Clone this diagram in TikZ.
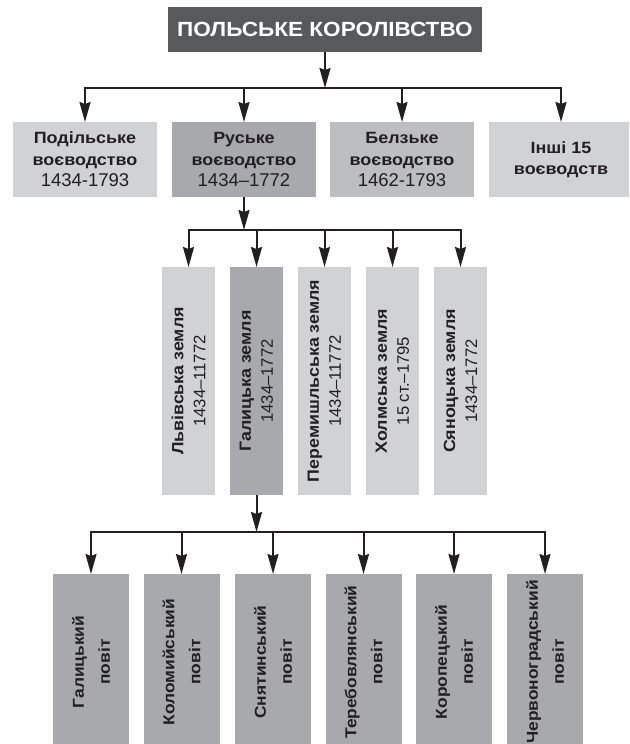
\documentclass[tikz,border=0pt]{standalone}
\usepackage{fontspec}
\setmainfont{Liberation Sans}[BoldFeatures={FakeStretch=1.1}]
\usetikzlibrary{arrows.meta}
\definecolor{ink}{HTML}{231F20}
\definecolor{boxlight}{HTML}{D1D2D4}
\definecolor{boxmid}{HTML}{BCBEC0}
\definecolor{boxdark}{HTML}{A7A9AC}
\definecolor{titlebg}{HTML}{58595B}
\begin{document}
\begin{tikzpicture}[x=1pt,y=-1pt,
  conn/.style={line width=2pt, draw=ink},
  bus/.style={conn, line cap=rect},
  arr/.style={conn, -{Stealth[length=20pt,width=11pt,inset=2pt]}},
  box/.style={inner sep=0pt, outer sep=0pt, text=ink, align=center},
  prov/.style={box, minimum width=144pt, minimum height=75pt, font=\fontsize{16.3}{21.5}\selectfont},
  land/.style={box, rotate=90, minimum width=228pt, minimum height=53pt, font=\fontsize{16.2}{22}\selectfont},
  pov/.style={box, rotate=90, minimum width=176pt, minimum height=76pt, fill=boxdark, font=\bfseries\fontsize{15.8}{26}\selectfont},
]
\useasboundingbox (0,0) rectangle (629,744);
\clip (0,0) rectangle (629,744);
\fill[white] (0,0) rectangle (629,744);

\node[box, fill=titlebg, text=white, minimum width=314pt, minimum height=45pt,
  font=\bfseries\fontsize{20.5}{24}\selectfont] (top) at (325,29.5) {ПОЛЬСЬКЕ КОРОЛІВСТВО};

\node[prov, fill=boxlight] (pod) at (85,159.5)
  {\textbf{Подільське}\\\textbf{воєводство}\\{\fontsize{18.5}{21.5}\selectfont 1434-1793}};
\node[prov, fill=boxdark] (rus) at (244,159.5)
  {\textbf{Руське}\\\textbf{воєводство}\\{\fontsize{18.5}{21.5}\selectfont 1434–1772}};
\node[prov, fill=boxmid] (belz) at (402,159.5)
  {\textbf{Белзьке}\\\textbf{воєводство}\\{\fontsize{18.5}{21.5}\selectfont 1462-1793}};
\node[prov, fill=boxlight] (insh) at (561,159.5)
  {\textbf{Інші 15}\\\textbf{воєводств}};

\node[land, fill=boxlight] (lviv) at (188.5,381)
  {\textbf{Львівська земля}\\{\fontsize{16.7}{22}\selectfont 1434–11772}};
\node[land, fill=boxdark] (hal) at (256.5,381)
  {\textbf{Галицька земля}\\{\fontsize{16.7}{22}\selectfont 1434–1772}};
\node[land, fill=boxlight] (per) at (324.5,381)
  {\textbf{Перемишльська земля}\\{\fontsize{16.7}{22}\selectfont 1434–11772}};
\node[land, fill=boxlight] (khol) at (392.5,381)
  {\textbf{Холмська земля}\\{\fontsize{16.7}{22}\selectfont 15 ст.–1795}};
\node[land, fill=boxlight] (syan) at (460.5,381)
  {\textbf{Сяноцька земля}\\{\fontsize{16.7}{22}\selectfont 1434–1772}};

\node[pov] (p1) at (91,662) {Галицький\\повіт};
\node[pov] (p2) at (181.5,662) {Коломийський\\повіт};
\node[pov] (p3) at (273,662) {Снятинський\\повіт};
\node[pov] (p4) at (363.5,662) {Теребовлянський\\повіт};
\node[pov] (p5) at (454,662) {Коропецький\\повіт};
\node[pov] (p6) at (545,662) {Червоноградський\\повіт};

\coordinate (h1) at (0,88);
\coordinate (h2) at (0,230);
\coordinate (h3) at (0,532);

\draw[arr] (top.south) -- (top.south |- h1);
\draw[bus] (pod.north |- h1) -- (insh.north |- h1);
\foreach \n in {pod,rus,belz,insh} \draw[arr] (\n.north |- h1) -- (\n.north);

\draw[arr] (rus.south) -- (rus.south |- h2);
\draw[bus] (lviv.east |- h2) -- (syan.east |- h2);
\foreach \n in {lviv,hal,per,khol,syan} \draw[arr] (\n.east |- h2) -- (\n.east);

\draw[arr] (hal.west) -- (hal.west |- h3);
\draw[bus] (p1.east |- h3) -- (p6.east |- h3);
\foreach \n in {p1,p2,p3,p4,p5,p6} \draw[arr] (\n.east |- h3) -- (\n.east);
\end{tikzpicture}
\end{document}
